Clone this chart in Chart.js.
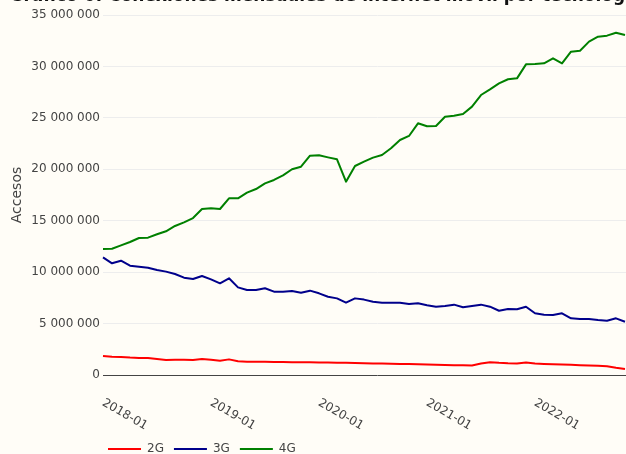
<!DOCTYPE html>
<html>
<head>
<meta charset="utf-8">
<script src="https://cdn.jsdelivr.net/npm/chart.js@4.4.1/dist/chart.umd.min.js"></script>
<style>
    html, body { margin: 0; padding: 0; width: 626px; height: 454px; overflow: hidden; background: #fffdf7; }
    #wrap { position: absolute; left: 0; top: -20px; width: 656px; height: 485px; }
</style>
</head>
<body>
<div id="wrap"><canvas id="chart" width="656" height="485"></canvas></div>
<script>
// Chart data (monthly, starting 2018-01)
const chartTitle = 'Gráfico 6: Conexiones mensuales de internet móvil por tecnología';
const seriesNames = ['2G', '3G', '4G'];
const seriesColors = ['#ff0000', '#00008b', '#008000'];

const values2G = [
    1850000, 1780000, 1750000, 1690000, 1650000, 1650000, 1560000, 1460000, 1490000, 1490000,
    1460000, 1560000, 1490000, 1390000, 1520000, 1330000, 1300000, 1290000, 1280000, 1270000,
    1260000, 1250000, 1240000, 1230000, 1220000, 1210000, 1200000, 1180000, 1170000, 1150000,
    1130000, 1110000, 1100000, 1080000, 1060000, 1040000, 1020000, 1000000, 980000, 960000,
    940000, 930000, 1120000, 1250000, 1180000, 1140000, 1120000, 1220000, 1120000, 1080000,
    1050000, 1020000, 990000, 960000, 930000, 900000, 850000, 700000, 580000
];
const values3G = [
    11440000, 10860000, 11110000, 10630000, 10530000, 10430000, 10210000, 10050000, 9820000, 9460000,
    9330000, 9630000, 9300000, 8910000, 9400000, 8520000, 8260000, 8260000, 8430000, 8100000,
    8100000, 8170000, 8000000, 8200000, 7940000, 7610000, 7450000, 7030000, 7450000, 7330000,
    7130000, 7030000, 7030000, 7030000, 6900000, 6970000, 6780000, 6640000, 6710000, 6840000,
    6580000, 6710000, 6840000, 6640000, 6250000, 6420000, 6390000, 6640000, 6000000, 5860000,
    5830000, 6000000, 5510000, 5440000, 5440000, 5350000, 5280000, 5510000, 5180000
];
const values4G = [
    12250000, 12280000, 12600000, 12930000, 13320000, 13350000, 13680000, 13970000, 14490000, 14840000,
    15260000, 16140000, 16200000, 16140000, 17180000, 17180000, 17730000, 18080000, 18630000, 18960000,
    19410000, 20000000, 20250000, 21320000, 21360000, 21160000, 20970000, 18800000, 20320000, 20740000,
    21130000, 21390000, 22040000, 22850000, 23240000, 24470000, 24180000, 24210000, 25110000, 25210000,
    25380000, 26090000, 27220000, 27770000, 28360000, 28750000, 28840000, 30200000, 30240000, 30300000,
    30790000, 30300000, 31430000, 31530000, 32410000, 32890000, 32990000, 33280000, 33060000
];
const yTicks = [0, 5000000, 10000000, 15000000, 20000000, 25000000, 30000000, 35000000];

// month labels 2018-01 .. 2023-02 (axis runs a little past the visible data)
const months = [];
for (let y = 2018; y <= 2023; y++) {
    for (let m = 1; m <= 12; m++) {
        months.push(y + '-' + String(m).padStart(2, '0'));
    }
}
months.length = 62;

const FONT = 'DejaVu Sans';
const TEXT = '#444';

function spaced(v) {
    return String(v).replace(/\B(?=(\d{3})+(?!\d))/g, ' ');
}

// x labels are drawn turned clockwise, which the axis itself can't do
const xLabels = {
    id: 'xLabels',
    afterDraw(chart) {
        const xs = chart.scales.x;
        const ctx = chart.ctx;
        ctx.save();
        ctx.font = '12px "' + FONT + '"';
        ctx.fillStyle = TEXT;
        ctx.textAlign = 'left';
        ctx.textBaseline = 'middle';
        months.forEach((m, i) => {
            if (!m.endsWith('-01')) return;
            const x = xs.getPixelForValue(i);
            ctx.save();
            ctx.translate(x, chart.chartArea.bottom + 27);
            ctx.rotate(Math.PI / 6);
            ctx.fillText(m, 0, 0);
            ctx.restore();
        });
        ctx.restore();
    }
};

// move the legend under the plot's left edge
const legendShift = {
    id: 'legendShift',
    afterLayout(chart) {
        chart.legend.left = 98;
    }
};

const series = [values2G, values3G, values4G];

new Chart(document.getElementById('chart'), {
    type: 'line',
    data: {
        labels: months,
        datasets: series.map((vals, i) => ({
            label: seriesNames[i],
            data: vals,
            borderColor: seriesColors[i],
            backgroundColor: seriesColors[i],
            borderWidth: 2,
            pointRadius: 0,
            tension: 0,
            borderJoinStyle: 'round',
            fill: false
        }))
    },
    options: {
        responsive: false,
        animation: false,
        devicePixelRatio: 1,
        layout: { padding: { left: 0, right: 4, top: 0, bottom: 0 } },
        plugins: {
            title: {
                display: true,
                text: chartTitle,
                color: '#111',
                font: { family: FONT, size: 17, weight: 'bold' },
                padding: { top: 6.5, bottom: 8.1 }
            },
            legend: {
                position: 'bottom',
                align: 'start',
                labels: {
                    usePointStyle: true,
                    pointStyle: 'line',
                    pointStyleWidth: 33,
                    color: TEXT,
                    padding: 10,
                    font: { family: FONT, size: 12 }
                }
            },
            tooltip: { enabled: false }
        },
        scales: {
            x: {
                type: 'category',
                grid: { display: false },
                border: { display: false },
                ticks: { display: false },
                afterFit: scale => { scale.height = 58; }
            },
            y: {
                min: 0,
                max: 35000000,
                afterBuildTicks: scale => { scale.ticks = yTicks.map(v => ({ value: v })); },
                ticks: {
                    color: TEXT,
                    padding: 3,
                    font: { family: FONT, size: 12 },
                    callback: v => spaced(v)
                },
                grid: {
                    drawTicks: false,
                    color: ctx => ctx.tick && ctx.tick.value === 0 ? '#444' : '#ededed'
                },
                border: { display: false },
                title: {
                    display: true,
                    text: 'Accesos',
                    color: TEXT,
                    font: { family: FONT, size: 14 },
                    padding: { top: 8.6, bottom: 0 }
                },
                afterFit: scale => { scale.width = 103; }
            }
        }
    },
    plugins: [xLabels, legendShift]
});
</script>
</body>
</html>
